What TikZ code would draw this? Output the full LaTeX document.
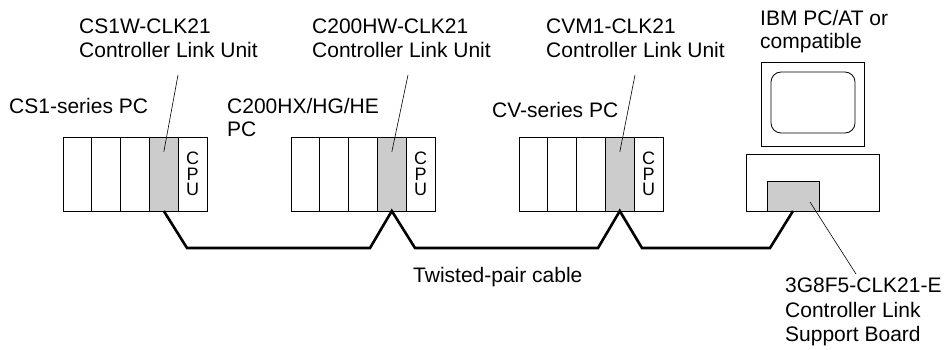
\documentclass[tikz,border=0pt]{standalone}
\usepackage{fontspec}
\setmainfont{Liberation Sans}
\usetikzlibrary{positioning}

\begin{document}
\begin{tikzpicture}[x=1pt,y=-1pt]
            \tikzset{slot/.style = {draw, line width=0.8pt, minimum width=28.8pt, minimum height=74pt, inner sep=0pt, outer sep=0pt}}
            \tikzset{unit/.style = {slot, fill=black!20}}
            \tikzset{label/.style = {align=left, inner sep=0pt, anchor=north west, font=\fontsize{21}{23.5}\selectfont}}
            \tikzset{cable/.style = {line width=2.6pt, line join=miter}}
            \tikzset{leader/.style = {line width=0.6pt}}
            \useasboundingbox (0,0) rectangle (950,350);

            % racks
            \foreach \r/\x in {1/63,2/291,3/519}
            {
              \foreach \s in {1,2,3}
                \node[slot] (r\r-s\s) at ({\x+28.8*(\s-0.5)},174) {};
              \node[unit] (r\r-u) at ({\x+28.8*3.5},174) {};
              \node[slot, align=center, font=\fontsize{18}{15.5}\selectfont] (r\r-cpu) at ({\x+28.8*4.5},174) {C\\P\\U};
              \coordinate (r\r-tip) at ([yshift=22pt]r\r-u.center);
            }

            % computer
            \node[draw, line width=0.8pt, minimum width=103pt, minimum height=84pt] (monitor) at (812.5,104) {};
            \node[draw, line width=0.8pt, rounded corners=10pt, minimum width=84pt, minimum height=61pt] (screen) at (813,102.5) {};
            \node[draw, line width=0.8pt, minimum width=133pt, minimum height=57pt] (base) at (812.5,182.5) {};
            \node[unit, minimum width=52pt, minimum height=30pt, anchor=south west] (board) at (767,211) {};
            \coordinate (board-tip) at (810,202);

            % labels
            \node[label] (clk1) at (79,19) {CS1W-CLK21\\Controller Link Unit};
            \node[label] (clk2) at (312,19) {C200HW-CLK21\\Controller Link Unit};
            \node[label] (clk3) at (546,19) {CVM1-CLK21\\Controller Link Unit};
            \node[label] (ibm) at (760,10) {IBM PC/AT or\\compatible};
            \node[label] (pc1) at (9,98) {CS1-series PC};
            \node[label] (pc2) at (227,98) {C200HX/HG/HE\\PC};
            \node[label] (pc3) at (492,102) {CV-series PC};
            \node[label] (tp) at (413,267) {Twisted-pair cable};
            \node[label, font=\fontsize{21}{24.5}\selectfont] (sb) at (785,278) {3G8F5-CLK21-E\\Controller Link\\Support Board};

            % leaders
            \coordinate (l1) at (178,75);
            \coordinate (l2) at (408,75);
            \coordinate (l3) at (635,75);
            \coordinate (l4) at (856,274);
            \foreach \r in {1,2,3} {\draw[leader] (l\r) -- (r\r-tip);}
            \draw[leader] (board-tip) -- (l4);

            % cable
            \coordinate (c1) at (187,248);
            \coordinate (c2) at (370,248);
            \coordinate (c3) at (415,248);
            \coordinate (c4) at (598,248);
            \coordinate (c5) at (642,248);
            \coordinate (c6) at (770,248);
            \draw[cable] (r1-u.south) -- (c1) -- (c2) -- (r2-u.south) -- (c3) -- (c4) -- (r3-u.south) -- (c5) -- (c6) -- (board.south);

\end{tikzpicture}
\end{document}
